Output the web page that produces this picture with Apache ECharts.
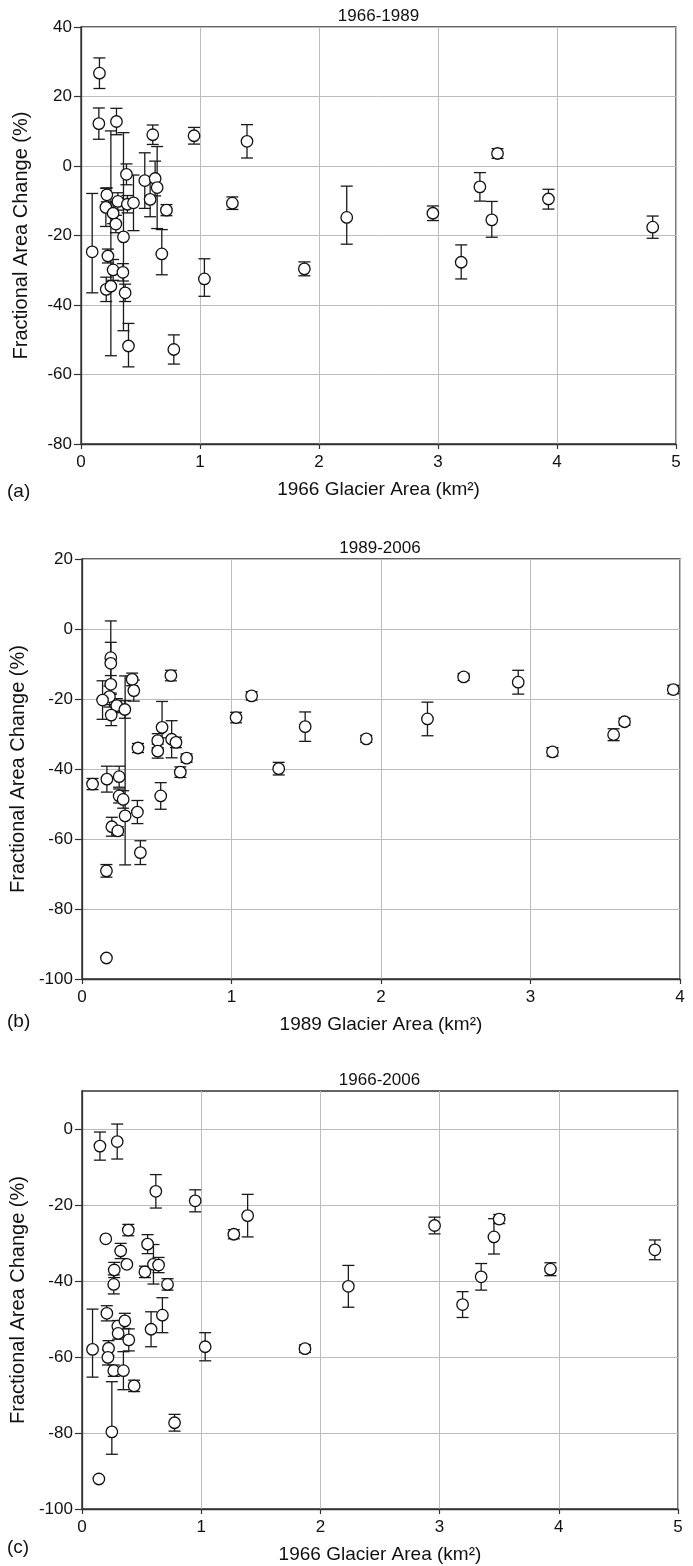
<!DOCTYPE html>
<html><head><meta charset="utf-8">
<script src="https://cdn.jsdelivr.net/npm/echarts@6/dist/echarts.min.js"></script>
<style>html,body{margin:0;padding:0;background:#fff}#c{width:693px;height:1566px}</style>
</head><body><div id="c"></div>
<script>
// Panel (a) 1966-1989
const aX  = [0.155,0.15,0.298,0.603,0.95,1.395,0.382,0.536,0.623,0.64,0.581,0.217,0.209,0.31,0.27,0.39,0.441,0.293,0.718,0.357,0.094,0.226,0.27,0.352,0.212,0.251,0.371,1.037,0.399,0.78,0.679,1.272,1.877,2.233,2.957,3.195,3.352,3.452,3.5,3.928,4.804];
const aY  = [26.7,12.2,12.8,9.0,8.7,7.1,-2.4,-4.2,-3.6,-6.2,-9.6,-8.3,-11.9,-10.2,-13.6,-11.0,-10.6,-16.7,-12.7,-20.4,-24.7,-25.9,-29.9,-30.6,-35.5,-34.6,-36.5,-32.5,-51.8,-52.8,-25.3,-10.7,-29.6,-14.8,-13.6,-27.7,-6.0,-15.5,3.6,-9.5,-17.6];
const aUp = [4.4,4.5,3.8,2.8,2.4,4.8,3,8,5,11.8,5,2,5.5,2.5,3,2.5,8,2.5,1.6,30,16.8,2,3,2.5,3.5,44.7,2.5,5.8,6.5,4.2,7.0,1.8,2.0,9.0,2.1,5.0,4.1,5.3,1.4,2.8,3.2];
const aDn = [4.4,4.5,3.8,2.8,2.4,4.8,3,8,5,11.8,5,2,5.5,2.5,3,2.5,8,2.5,1.6,27,11.8,2,3,2.5,3.5,20,2.5,5.0,6.0,4.2,6.0,1.8,2.0,7.7,2.1,4.8,4.1,5.0,1.4,2.9,3.2];

// Panel (b) 1989-2006
const bX  = [0.193,0.193,0.193,0.184,0.138,0.233,0.287,0.196,0.336,0.347,0.595,1.135,1.031,1.316,0.375,0.536,0.507,0.507,0.6,0.629,0.7,0.658,0.071,0.167,0.249,0.249,0.276,0.289,0.371,0.2,0.24,0.391,0.164,0.164,0.527,1.493,1.902,2.311,2.553,2.918,3.147,3.556,3.629,3.955];
const bY  = [-8.2,-9.8,-15.8,-19.3,-20.3,-21.9,-23.0,-24.6,-14.4,-17.6,-13.3,-19.1,-25.3,-39.9,-34.0,-28.1,-31.9,-34.9,-31.5,-32.4,-36.9,-40.9,-44.3,-42.9,-42.2,-47.7,-48.7,-53.4,-52.3,-56.5,-57.7,-63.9,-69.1,-94,-47.7,-27.9,-31.4,-25.7,-13.7,-15.2,-35.1,-30.2,-26.5,-17.3];
const bUp = [10.5,6,2.5,3,5.5,2,2.5,3,1.8,3,1.5,1.2,1.5,1.8,1.3,7.4,2,2,5.3,1.5,1.2,1.5,1.6,3.7,3,2,2.5,40,3.3,2.7,1.2,3.4,1.8,0,3.8,4.2,1.0,4.8,1.0,3.4,1.2,1.7,1.0,1.2];
const bDn = [10.5,6,2.5,3,5.5,2,2.5,3,1.8,3,1.5,1.2,1.5,1.8,1.3,3,2,2,5.3,1.5,1.2,1.5,1.6,3.7,3,2,2.5,14,3.3,2.7,1.2,3.4,1.8,0,3.8,4.2,1.0,4.8,1.0,3.4,1.2,1.7,1.0,1.2];

// Panel (c) 1966-2006
const cX  = [0.151,0.296,0.62,0.95,1.39,1.274,0.2,0.389,0.551,0.325,0.377,0.271,0.528,0.6,0.643,0.267,0.718,0.209,0.089,0.301,0.36,0.304,0.393,0.58,0.675,0.223,0.218,0.267,0.348,0.438,1.034,0.777,0.251,0.142,1.871,2.235,2.958,3.193,3.349,3.456,3.5,3.93,4.806];
const cY  = [-4.5,-3.3,-16.4,-18.9,-22.8,-27.7,-28.9,-26.6,-30.3,-32.1,-35.6,-37.1,-37.6,-35.6,-35.8,-40.9,-40.9,-48.5,-58,-51.9,-50.5,-53.8,-55.5,-52.7,-49.0,-57.7,-60.1,-63.6,-63.6,-67.6,-57.3,-77.3,-79.7,-92.1,-57.8,-41.4,-25.4,-46.2,-38.9,-28.4,-23.7,-36.9,-31.8];
const cUp = [3.7,4.6,4.4,2.9,5.6,1.2,0,1.5,2.5,2,0,2,1.5,5.2,2,2.5,1.5,2,10.6,1.5,2,1.5,2.9,4.6,4.6,2,2,1.5,5,1.5,3.7,2.2,13.2,0,1,5.5,2.2,3.4,3.5,4.8,1.2,1.7,2.6];
const cDn = [3.7,4.6,4.4,2.9,5.6,1.2,0,1.5,2.5,2,0,2,1.5,5.2,2,2.5,1.5,2,7.3,1.5,2,1.5,2.9,4.6,4.6,2,2,1.5,5,1.5,3.7,2.2,5.9,0,1,5.5,2.2,3.4,3.5,4.5,1.2,1.7,2.6];

const titles = ['1966-1989','1989-2006','1966-2006'];
const xNames = ['1966 Glacier Area (km²)','1989 Glacier Area (km²)','1966 Glacier Area (km²)'];
const yName = 'Fractional Area Change (%)';
const panelTags = ['(a)','(b)','(c)'];
const yTicksC = [-100,-80,-60,-40,-20,0];

const F = "'Liberation Sans', Arial, sans-serif";
const grids = [
  {left:81, top:27, width:595, height:417},
  {left:80, top:559, width:600, height:420},
  {left:81, top:1091, width:597, height:418}
];
const xMax = [5,4,5];
const yMin = [-80,-100,-100];
const yMax = [40,20,10];

function xAx(i){
  return {type:'value', gridIndex:i, min:0, max:xMax[i], interval:1,
    name:xNames[i], nameLocation:'middle', nameGap:36,
    nameTextStyle:{fontSize:19, color:'#111', fontFamily:F},
    axisLine:{show:true, onZero:false, lineStyle:{color:'#333', width:1.3}},
    axisTick:{show:true, length:5, lineStyle:{color:'#333', width:1.2}},
    axisLabel:{fontSize:17, color:'#111', margin:10, fontFamily:F},
    splitLine:{show:true, lineStyle:{color:'#bcbcbc', width:1}}};
}
function yAx(i){
  const ax = {type:'value', gridIndex:i, min:yMin[i], max:yMax[i], interval:20,
    name:yName, nameLocation:'middle', nameGap:50,
    nameTextStyle:{fontSize:20, color:'#111', fontFamily:F},
    axisLine:{show:true, onZero:false, lineStyle:{color:'#333', width:1.3}},
    axisTick:{show:true, length:7, lineStyle:{color:'#333', width:1.2}},
    axisLabel:{fontSize:17, color:'#111', margin:9, fontFamily:F},
    splitLine:{show:true, lineStyle:{color:'#bcbcbc', width:1}}};
  if (i === 2) {
    ax.axisTick.customValues = yTicksC;
    ax.axisLabel.customValues = yTicksC;
  }
  return ax;
}
function errSeries(i, xs, ys, up, dn){
  return {type:'custom', xAxisIndex:i, yAxisIndex:i, z:2, silent:true, clip:false,
    data: xs.map((x,k)=>[x, ys[k], up[k], dn[k]]),
    encode:{x:0, y:1},
    renderItem:function(params, api){
      const x=api.value(0), y=api.value(1), u=api.value(2), d=api.value(3);
      if (!u && !d) return {type:'group', children:[]};
      const t=api.coord([x, y+u]), b=api.coord([x, y-d]);
      const hw=6, st={stroke:'#1a1a1a', lineWidth:1.3};
      return {type:'group', children:[
        {type:'line', shape:{x1:t[0],y1:t[1],x2:b[0],y2:b[1]}, style:st},
        {type:'line', shape:{x1:t[0]-hw,y1:t[1],x2:t[0]+hw,y2:t[1]}, style:st},
        {type:'line', shape:{x1:b[0]-hw,y1:b[1],x2:b[0]+hw,y2:b[1]}, style:st}
      ]};
    }};
}
function ptSeries(i, xs, ys){
  return {type:'scatter', xAxisIndex:i, yAxisIndex:i, z:3, silent:true,
    symbol:'circle', symbolSize:11.5,
    itemStyle:{color:'#fff', borderColor:'#111', borderWidth:1.3, opacity:1},
    data: xs.map((x,k)=>[x, ys[k]])};
}

const titleY = [16, 548, 1080];
const tagY = [492, 1022, 1548];
const graphics = [];
for (let i=0;i<3;i++){
  const g = grids[i];
  graphics.push({type:'text', x:g.left + g.width/2, y:titleY[i],
    style:{text:titles[i], fill:'#111', font:'17px '+F, textAlign:'center', textVerticalAlign:'middle'}});
  graphics.push({type:'text', x:7, y:tagY[i],
    style:{text:panelTags[i], fill:'#111', font:'19px '+F, textAlign:'left', textVerticalAlign:'middle'}});
}

const chart = echarts.init(document.getElementById('c'), null, {renderer:'canvas'});
chart.setOption({
  animation:false,
  backgroundColor:'#fff',
  grid: grids.map(g=>Object.assign({show:true, borderColor:'#333', borderWidth:1.3, backgroundColor:'transparent'}, g)),
  xAxis:[0,1,2].map(xAx),
  yAxis:[0,1,2].map(yAx),
  graphic: graphics,
  series:[
    errSeries(0,aX,aY,aUp,aDn), ptSeries(0,aX,aY),
    errSeries(1,bX,bY,bUp,bDn), ptSeries(1,bX,bY),
    errSeries(2,cX,cY,cUp,cDn), ptSeries(2,cX,cY)
  ]
});
</script></body></html>
